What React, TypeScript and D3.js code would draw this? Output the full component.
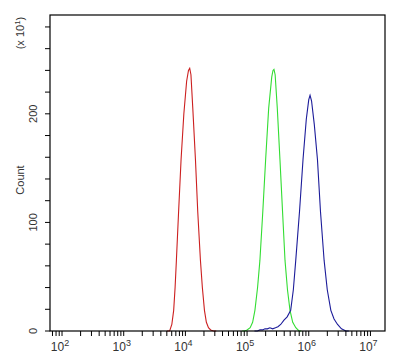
import React from "react";
import * as d3 from "d3";

const W = 404;
const H = 361;

const redLog = [3.70, 3.745, 3.78, 3.81, 3.833, 3.854, 3.89, 3.93, 3.975, 4.02, 4.05, 4.07, 4.09, 4.12, 4.163, 4.2, 4.244, 4.275, 4.309, 4.34, 4.374, 4.41, 4.455, 4.5];
const redCount = [0, 0, 6, 19, 40, 65, 110, 158, 200, 230, 240, 242, 236, 205, 158, 110, 65, 40, 19, 8, 3, 1, 0, 0];

const greenLog = [4.92, 4.959, 5.0, 5.05, 5.09, 5.127, 5.17, 5.208, 5.255, 5.301, 5.35, 5.40, 5.42, 5.436, 5.455, 5.49, 5.533, 5.575, 5.615, 5.655, 5.696, 5.74, 5.79, 5.842, 5.88];
const greenCount = [0, 0, 1, 3, 8, 19, 40, 65, 110, 158, 205, 234, 240, 241, 236, 205, 158, 110, 65, 38, 19, 8, 3, 0, 0];

const blueLog = [5.12, 5.166, 5.21, 5.252, 5.29, 5.329, 5.37, 5.415, 5.46, 5.5, 5.545, 5.598, 5.65, 5.707, 5.75, 5.789, 5.85, 5.907, 5.96, 6.0, 6.021, 6.045, 6.09, 6.141, 6.19, 6.249, 6.30, 6.358, 6.41, 6.467, 6.53, 6.602, 6.65];
const blueCount = [0, 0, 1, 1, 2, 2, 3, 2, 3, 4, 6, 10, 13, 19, 38, 65, 110, 158, 195, 213, 217, 212, 190, 158, 110, 65, 38, 19, 11, 6, 2, 0, 0];

const xDecades = [2, 3, 4, 5, 6, 7];
const yMajorTicks = [0, 100, 200];
const yMinorTicks = [20, 40, 60, 80, 120, 140, 160, 180, 220, 240, 260, 280];

const series = [
  { name: "red", logs: redLog, counts: redCount, color: "#cc2020" },
  { name: "green", logs: greenLog, counts: greenCount, color: "#33dd33" },
  { name: "blue", logs: blueLog, counts: blueCount, color: "#1c1c9a" },
];

export default function App() {
  const left = 50, right = 385, top = 15, bottom = 331;
  const x = d3.scaleLog().domain([Math.pow(10, 1.805), Math.pow(10, 7.236)]).range([left, right]);
  const y = d3.scaleLinear().domain([0, 291]).range([bottom, top]);

  const minorX: number[] = [];
  for (let d = 1; d <= 7; d++) {
    for (let m = 2; m <= 9; m++) {
      const v = m * Math.pow(10, d);
      if (x(v) >= left && x(v) <= right) minorX.push(v);
    }
  }

  const line = d3
    .line<[number, number]>()
    .x((d) => x(Math.pow(10, d[0])))
    .y((d) => y(d[1]));

  const font = "Arial, 'Liberation Sans', sans-serif";

  return (
    <svg width={W} height={H} style={{ position: "absolute", left: 0, top: 0 }} fontFamily={font}>
      <rect x={0} y={0} width={W} height={H} fill="#fff" />
      {series.map((s) => (
        <path
          key={s.name}
          d={line(s.logs.map((l, i) => [l, s.counts[i]] as [number, number])) || ""}
          fill="none"
          stroke={s.color}
          strokeWidth={1.1}
        />
      ))}
      <rect x={left} y={top} width={right - left} height={bottom - top} fill="none" stroke="#000" strokeWidth={1.2} />
      {/* y ticks */}
      {yMajorTicks.concat(yMinorTicks).map((t) => (
        <line key={"yt" + t} x1={left - 5} x2={left} y1={y(t)} y2={y(t)} stroke="#000" />
      ))}
      {yMajorTicks.map((t) => (
        <text
          key={"yl" + t}
          transform={`translate(${37},${y(t)}) rotate(-90)`}
          textAnchor="middle"
          fontSize={11}
          fill="#333"
        >
          {t}
        </text>
      ))}
      {/* x ticks */}
      {xDecades.map((d) => (
        <line key={"xM" + d} x1={x(Math.pow(10, d))} x2={x(Math.pow(10, d))} y1={bottom} y2={bottom + 5} stroke="#000" />
      ))}
      {minorX.map((v, i) => (
        <line key={"xm" + i} x1={x(v)} x2={x(v)} y1={bottom} y2={bottom + 5} stroke="#000" />
      ))}
      {xDecades.map((d) => (
        <text key={"xl" + d} x={x(Math.pow(10, d)) - 2} y={351} textAnchor="middle" fontSize={12} fill="#333">
          10
          <tspan dy={-5} fontSize={9}>
            {d}
          </tspan>
        </text>
      ))}
      <text transform={`translate(24,${180}) rotate(-90)`} textAnchor="middle" fontSize={11} fill="#333">
        Count
      </text>
      <text transform={`translate(24,${33}) rotate(-90)`} textAnchor="middle" fontSize={11} fill="#333">
        (x 10
        <tspan dy={-4} fontSize={8}>
          1
        </tspan>
        <tspan dy={4}>)</tspan>
      </text>
    </svg>
  );
}
